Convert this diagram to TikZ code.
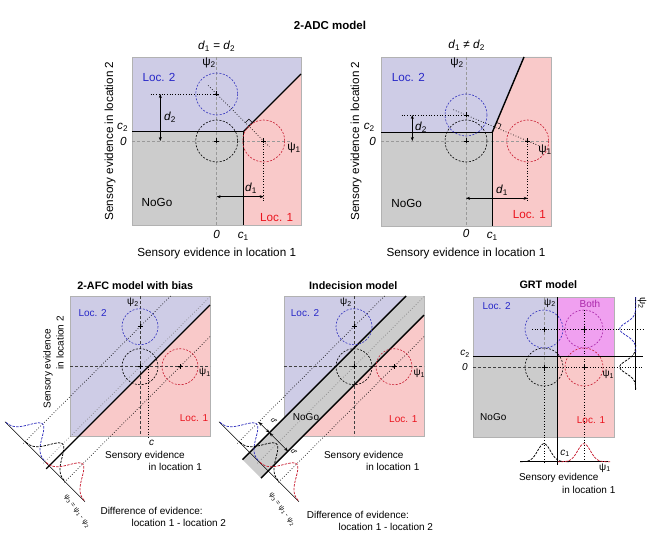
\documentclass[tikz,border=0pt]{standalone}
\usepackage{fontspec}
\setmainfont{Liberation Sans}
\usetikzlibrary{arrows.meta}

\definecolor{locblue}{RGB}{206,204,230}
\definecolor{locpink}{RGB}{249,201,201}
\definecolor{nogogrey}{RGB}{204,204,204}
\definecolor{bothmag}{RGB}{240,160,240}
\definecolor{circblue}{RGB}{50,50,190}
\definecolor{circred}{RGB}{200,30,50}
\definecolor{circmag}{RGB}{170,40,170}
\definecolor{textblue}{RGB}{40,40,200}
\definecolor{textred}{RGB}{235,20,30}

\tikzset{
  boxline/.style={draw=gray!60, line width=0.4pt},
  bound/.style={line width=1.4pt},
  axisdash/.style={gray!80, dash pattern=on 3pt off 2pt, line width=0.6pt},
  lowdash/.style={black!75, dash pattern=on 3pt off 2pt, line width=0.6pt},
  guide/.style={dotted, line width=0.7pt},
  blob/.style={dash pattern=on 2pt off 1.5pt, line width=0.6pt},
  bell/.style={dash pattern=on 2.5pt off 1.2pt, line width=0.75pt},
  twoway/.style={<->, >={Stealth[length=4pt,width=3pt]}, line width=0.5pt},
  toptext/.style={font=\fontsize{11.7}{14}\selectfont},
  lowtext/.style={font=\fontsize{10}{12}\selectfont},
  tinytext/.style={font=\fontsize{7}{8}\selectfont, inner sep=0.5pt},
}

\newcommand{\var}[2]{\textit{#1}\textsubscript{#2}}
\newcommand{\ctr}[1]{\draw[line width=0.6pt] (#1) +(-2.5,0) -- +(2.5,0) +(0,-2.5) -- +(0,2.5);}
\newcommand{\diaggauss}[3]{\draw[bell,#1] plot[domain=-27:27,samples=45,smooth]
  ({#2+0.7071*\x+17.68*exp(-(\x)*(\x)/162)},{#3+0.7071*\x-17.68*exp(-(\x)*(\x)/162)});}

\begin{document}
\begin{tikzpicture}[x=1pt,y=-1pt]
\useasboundingbox (0,0) rectangle (650,548);

\node[toptext,font=\bfseries\fontsize{11.5}{14}\selectfont] (t_top) at (330,25) {2-ADC model};

% 2-ADC, d1 = d2
\fill[locblue] (132,57) rectangle (301,225);
\fill[locpink] (243.3,131.7) -- (301,74) -- (301,225) -- (243.3,225) -- cycle;
\fill[nogogrey] (132,131.7) rectangle (243.3,225);
\draw[boxline] (132,57) rectangle (301,225);
\coordinate (k_a) at (243.3,131.7);
\coordinate (b_a) at (216.7,94);
\coordinate (o_a) at (216.7,141);
\coordinate (r_a) at (263.7,141);
\draw[axisdash] (132,141) -- (290,141);
\draw[axisdash] (216.7,57) -- (216.7,225);
\draw[guide] (150.7,94) -- (b_a);
\draw[guide] (r_a) -- (263.7,201.7);
\draw[guide] (208.2,85.5) -- (269.4,146.7);
\draw[line width=0.5pt] (245.3,122.6) -- (248.85,119.1) -- (252.4,122.6);
\draw[bound] (132,131.7) -- (k_a) -- (243.3,225);
\draw[bound] (k_a) -- (301,74);
\draw[blob,circblue] (b_a) circle[radius=21];
\draw[blob,black] (o_a) circle[radius=21];
\draw[blob,circred] (r_a) circle[radius=21];
\ctr{b_a} \ctr{o_a} \ctr{r_a}
\draw[twoway] (160.3,94) -- (160.3,141);
\draw[twoway] (216.7,196.7) -- (263.7,196.7);
\node[toptext] (d2_a) at (170,117) {\var{d}{2}};
\node[toptext] (d1_a) at (251,188) {\var{d}{1}};
\node[toptext] (p2_a) at (209,63) {ψ\textsubscript{2}};
\node[toptext] (p1_a) at (294,148) {ψ\textsubscript{1}};
\node[toptext,textblue] (l2_a) at (159,77) {Loc. 2};
\node[toptext] (ng_a) at (157,202) {NoGo};
\node[toptext,textred] (l1_a) at (276.7,218) {Loc. 1};
\node[toptext] (z1_a) at (216.7,234) {\textit{0}};
\node[toptext] (c1_a) at (243.3,236) {\var{c}{1}};
\node[toptext] (c2_a) at (122.7,127) {\var{c}{2}};
\node[toptext] (z2_a) at (123.3,141) {\textit{0}};
\node[toptext] (h_a) at (216.7,46) {\var{d}{1} = \var{d}{2}};
\node[toptext] (x_a) at (216.7,253.3) {Sensory evidence in location 1};
\node[toptext,rotate=90] (y_a) at (110,141) {Sensory evidence in location 2};

% 2-ADC, d1 /= d2
\fill[locblue] (381,57) rectangle (551,226);
\fill[locpink] (492.3,132.3) -- (524,57) -- (551,57) -- (551,226) -- (492.3,226) -- cycle;
\fill[nogogrey] (381,132.3) rectangle (492.3,226);
\draw[boxline] (381,57) rectangle (551,226);
\coordinate (k_b) at (492.3,132.3);
\coordinate (b_b) at (466,115);
\coordinate (o_b) at (466,141);
\coordinate (r_b) at (527.7,141);
\draw[axisdash] (381,141) -- (551,141);
\draw[axisdash] (466,57) -- (466,226);
\draw[guide] (401.7,115) -- (b_b);
\draw[guide] (r_b) -- (527.7,203);
\draw[guide] (453.4,109.7) -- (538.4,145.5);
\draw[line width=0.5pt] (496.4,122.4) -- (501,124.3) -- (499.1,128.9);
\draw[bound] (381,132.3) -- (k_b) -- (492.3,226);
\draw[bound] (k_b) -- (524,57);
\draw[blob,circblue] (b_b) circle[radius=21];
\draw[blob,black] (o_b) circle[radius=21];
\draw[blob,circred] (r_b) circle[radius=21];
\ctr{b_b} \ctr{o_b} \ctr{r_b}
\draw[twoway] (412.3,115) -- (412.3,141);
\draw[twoway] (466,198.3) -- (527.7,198.3);
\node[toptext] (d2_b) at (421,127) {\var{d}{2}};
\node[toptext] (d1_b) at (502,190) {\var{d}{1}};
\node[toptext] (p2_b) at (457,63) {ψ\textsubscript{2}};
\node[toptext] (p1_b) at (545,150) {ψ\textsubscript{1}};
\node[toptext,textblue] (l2_b) at (408.3,77) {Loc. 2};
\node[toptext] (ng_b) at (406.7,203) {NoGo};
\node[toptext,textred] (l1_b) at (529.3,215) {Loc. 1};
\node[toptext] (z1_b) at (466,233) {\textit{0}};
\node[toptext] (c1_b) at (492.3,236.7) {\var{c}{1}};
\node[toptext] (c2_b) at (369.3,127.3) {\var{c}{2}};
\node[toptext] (z2_b) at (372.7,141) {\textit{0}};
\node[toptext] (h_b) at (466.7,45) {\var{d}{1} ≠ \var{d}{2}};
\node[toptext] (x_b) at (466,253.3) {Sensory evidence in location 1};
\node[toptext,rotate=90] (y_b) at (356,141) {Sensory evidence in location 2};

% 2-AFC with bias
\node[lowtext,font=\bfseries\fontsize{10.8}{13}\selectfont] (t_c) at (135.3,285.7) {2-AFC model with bias};
\fill[locblue] (70,296) rectangle (210,436);
\fill[locpink] (210,305) -- (210,436) -- (79,436) -- cycle;
\draw[boxline] (70,296) rectangle (210,436);
\coordinate (b_c) at (140,326.7);
\coordinate (o_c) at (140,366.7);
\coordinate (r_c) at (180,366.7);
\draw[lowdash] (70,366.7) -- (210,366.7);
\draw[lowdash] (140,296) -- (140,436);
\draw[guide] (148.3,366.7) -- (148.3,438);
\draw[guide] (170.7,296) -- (23.35,443.35);
\draw[guide,gray] (210,296.7) -- (43.35,463.35);
\draw[guide] (210,336.7) -- (63.35,483.35);
\draw[line width=0.5pt] (5,421.7) -- (85,501.7);
\draw[bound] (210,305) -- (46.2,468.8);
\draw[blob,circblue] (b_c) circle[radius=18];
\draw[blob,black] (o_c) circle[radius=18];
\draw[blob,circred] (r_c) circle[radius=18];
\ctr{b_c} \ctr{o_c} \ctr{r_c}
\diaggauss{circblue}{25}{441.7}
\diaggauss{black}{45}{461.7}
\diaggauss{circred}{65}{481.7}
\node[lowtext] (p2_c) at (133,302.7) {ψ\textsubscript{2}};
\node[lowtext] (p1_c) at (205,372.7) {ψ\textsubscript{1}};
\node[lowtext,textblue] (l2_c) at (92.7,313.3) {Loc. 2};
\node[lowtext,textred] (l1_c) at (194,418) {Loc. 1};
\node[lowtext] (cc_c) at (151.7,443.3) {\textit{c}};
\node[lowtext,anchor=west] (x1_c) at (101.7,455.7) {Sensory evidence};
\node[lowtext,anchor=west] (x2_c) at (145,467.3) {in location 1};
\node[lowtext,rotate=90,anchor=west] (y1_c) at (48,412) {Sensory evidence};
\node[lowtext,rotate=90,anchor=west] (y2_c) at (60,373) {in location 2};
\node[tinytext,rotate=-54,anchor=west] (q_c) at (65,495) {ψ\textsubscript{3} = ψ\textsubscript{1} - ψ\textsubscript{2}};
\node[lowtext,anchor=west] (f1_c) at (97,511) {Difference of evidence:};
\node[lowtext,anchor=west] (f2_c) at (128,523) {location 1 - location 2};

% Indecision
\node[lowtext,font=\bfseries\fontsize{10.8}{13}\selectfont] (t_d) at (353.3,286) {Indecision model};
\fill[locblue] (284,296) rectangle (424,436);
\fill[locpink] (424,315.2) -- (424,436) -- (303.2,436) -- cycle;
\draw[boxline] (284,296) rectangle (424,436);
\fill[nogogrey] (242.6,459.6) -- (406.2,296) -- (424,296) -- (424,315.2) -- (261.1,478.1) -- cycle;
\coordinate (b_d) at (354,326.7);
\coordinate (o_d) at (354,366.7);
\coordinate (r_d) at (394,366.7);
\draw[lowdash] (284,366.7) -- (424,366.7);
\draw[lowdash] (354,296) -- (354,436);
\draw[guide] (384.7,296) -- (237.35,443.35);
\draw[guide,gray] (424,296.7) -- (257.35,463.35);
\draw[guide] (424,336.7) -- (277.35,483.35);
\draw[line width=0.5pt] (219,421.7) -- (299,501.7);
\draw[bound] (406.2,296) -- (242.6,459.6);
\draw[bound] (424,315.2) -- (261.1,478.1);
\draw[blob,circblue] (b_d) circle[radius=18];
\draw[blob,black] (o_d) circle[radius=18];
\draw[blob,circred] (r_d) circle[radius=18];
\ctr{b_d} \ctr{o_d} \ctr{r_d}
\diaggauss{circblue}{239}{441.7}
\diaggauss{black}{259}{461.7}
\diaggauss{circred}{279}{481.7}
\draw[twoway] (258.7,422) -- (269.45,432.75);
\draw[twoway] (269.45,432.75) -- (287.95,451.25);
\node[tinytext,rotate=-45] (e1_d) at (274,421) {\textit{d}′};
\node[tinytext,rotate=-45] (e2_d) at (294,452) {\textit{d}′};
\node[lowtext] (p2_d) at (346,302.7) {ψ\textsubscript{2}};
\node[lowtext] (p1_d) at (419.3,373.3) {ψ\textsubscript{1}};
\node[lowtext,textblue] (l2_d) at (305,313.3) {Loc. 2};
\node[lowtext,textred] (l1_d) at (403.3,419.3) {Loc. 1};
\node[lowtext] (ng_d) at (306,416.7) {NoGo};
\node[lowtext,anchor=west] (x1_d) at (320.5,455.7) {Sensory evidence};
\node[lowtext,anchor=west] (x2_d) at (362.5,467.3) {in location 1};
\node[tinytext,rotate=-54,anchor=west] (q_d) at (270,493) {ψ\textsubscript{3} = ψ\textsubscript{1} - ψ\textsubscript{2}};
\node[lowtext,anchor=west] (f1_d) at (303.3,515) {Difference of evidence:};
\node[lowtext,anchor=west] (f2_d) at (335,526.7) {location 1 - location 2};

% GRT
\node[lowtext,font=\bfseries\fontsize{10.8}{13}\selectfont] (t_e) at (548.3,285) {GRT model};
\fill[locblue] (473,297) rectangle (557.7,356.7);
\fill[bothmag] (557.7,297) rectangle (614,356.7);
\fill[nogogrey] (473,356.7) rectangle (557.7,437);
\fill[locpink] (557.7,356.7) rectangle (614,437);
\draw[boxline] (473,297) rectangle (614,437);
\coordinate (b_e) at (544,329);
\coordinate (m_e) at (584,329);
\coordinate (o_e) at (544,367);
\coordinate (r_e) at (584,367);
\draw[axisdash] (544,297) -- (o_e);
\draw[guide] (o_e) -- (544,461.7);
\draw[guide] (584,310) -- (584,461.7);
\draw[lowdash] (473,367) -- (o_e);
\draw[guide] (o_e) -- (643,367);
\draw[guide] (532,329) -- (643,329);
\draw[blob,circblue] (b_e) circle[radius=19];
\draw[blob,circmag] (m_e) circle[radius=19];
\draw[blob,black] (o_e) circle[radius=19];
\draw[blob,circred] (r_e) circle[radius=19];
\ctr{b_e} \ctr{m_e} \ctr{o_e} \ctr{r_e}
\draw[line width=0.5pt] (520,461.7) -- (608.3,461.7);
\draw[line width=0.5pt] (635.7,297) -- (635.7,390);
\draw[bell,black] plot[domain=-24:26,samples=40,smooth] ({544+\x},{461.7-18*exp(-(\x)*(\x)/81)});
\draw[bell,circred] plot[domain=-26.3:26,samples=40,smooth] ({584+\x},{461.7-18*exp(-(\x)*(\x)/81)});
\draw[bell,circblue] plot[domain=-32:24,samples=40,smooth] ({635.7-16*exp(-(\x)*(\x)/81)},{329+\x});
\draw[bell,black] plot[domain=-22:23,samples=40,smooth] ({635.7-16*exp(-(\x)*(\x)/81)},{367+\x});
\draw[bound] (557.7,297) -- (557.7,465);
\draw[bound] (473,356.7) -- (642.7,356.7);
\node[lowtext,textblue] (l2_e) at (496.7,306) {Loc. 2};
\node[lowtext,circmag] (bo_e) at (590,304) {Both};
\node[lowtext] (ng_e) at (493.3,416.7) {NoGo};
\node[lowtext,textred] (l1_e) at (591,420) {Loc. 1};
\node[lowtext] (c2_e) at (465,354) {\var{c}{2}};
\node[lowtext] (z_e) at (465,367) {\textit{0}};
\node[lowtext] (c1_e) at (565,453.3) {\var{c}{1}};
\node[lowtext] (p2_e) at (550,303) {ψ\textsubscript{2}};
\node[lowtext] (p1_e) at (608.3,374.3) {ψ\textsubscript{1}};
\node[lowtext] (p1b_e) at (605,468) {ψ\textsubscript{1}};
\node[lowtext,rotate=-90] (p2b_e) at (642,303) {ψ\textsubscript{2}};
\node[lowtext,anchor=west] (x1_e) at (515.5,478.3) {Sensory evidence};
\node[lowtext,anchor=west] (x2_e) at (558.5,490) {in location 1};
\end{tikzpicture}
\end{document}
